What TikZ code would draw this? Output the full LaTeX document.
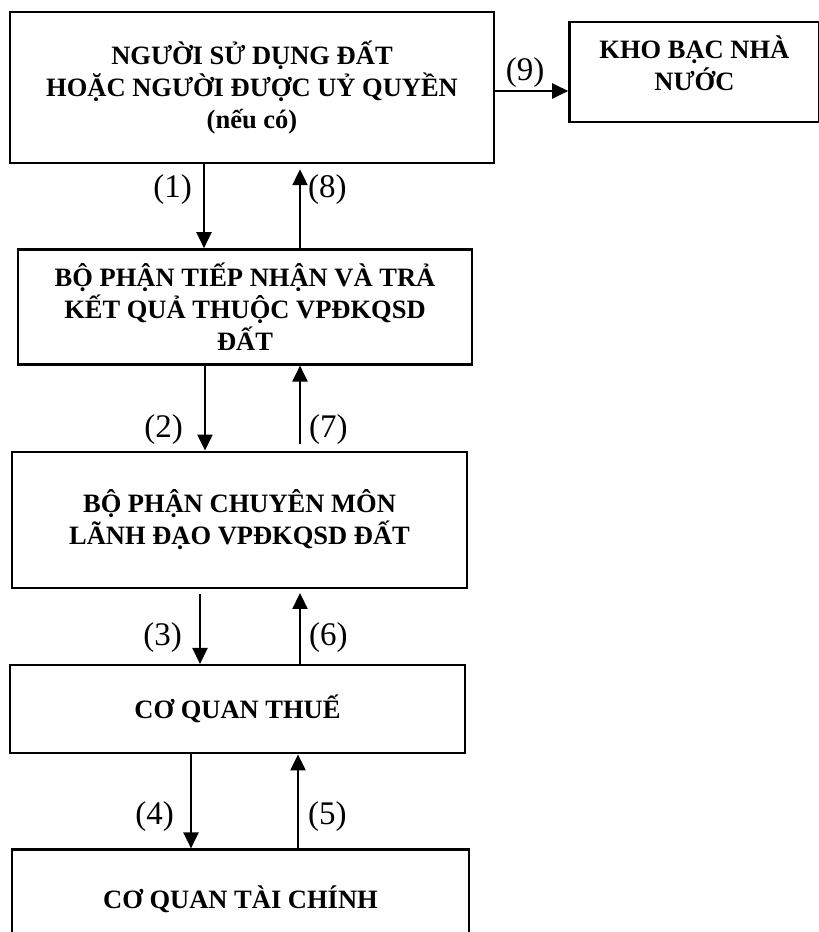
\documentclass[tikz,border=0pt]{standalone}
\usepackage{fontspec}
\setmainfont{Liberation Serif}
\usetikzlibrary{arrows.meta,positioning}
\tikzset{
  basebox/.style={rectangle,draw=black,line width=2.4pt,align=center,
    font=\fontsize{26.5}{32}\selectfont\bfseries},
  arr/.style={-{Triangle[length=16pt,width=15pt]},line width=2.2pt,color=black},
  lbl/.style={inner sep=0pt,font=\fontsize{33}{36}\selectfont}
}
\begin{document}
\begin{tikzpicture}[x=1pt,y=1pt]
  \useasboundingbox (0,0) rectangle (819,932);
  \node[basebox,minimum width=484pt,minimum height=151pt] (nguoi) at (252,844.5)
      {NGƯỜI SỬ DỤNG ĐẤT\\HOẶC NGƯỜI ĐƯỢC UỶ QUYỀN\\(nếu có)};
  \node[basebox,minimum width=250pt,minimum height=100pt,right=73pt of nguoi,yshift=15.5pt,
        label={[align=center,anchor=north,yshift=-11pt,font=\fontsize{26.5}{32}\selectfont\bfseries]north:{KHO BẠC NHÀ\\NƯỚC}}] (kbnn) {};
  \node[basebox,minimum width=454pt,minimum height=115pt,below=84pt of nguoi,xshift=-7pt] (tiepnhan)
      {BỘ PHẬN TIẾP NHẬN VÀ TRẢ\\KẾT QUẢ THUỘC VPĐKQSD\\ĐẤT};
  \node[basebox,minimum width=455pt,minimum height=136pt,below=85pt of tiepnhan,xshift=-5.5pt] (chuyenmon)
      {BỘ PHẬN CHUYÊN MÔN\\LÃNH ĐẠO VPĐKQSD ĐẤT};
  \node[basebox,minimum width=455pt,minimum height=88pt,below=75pt of chuyenmon,xshift=-2pt] (thue)
      {CƠ QUAN THUẾ};
  \node[basebox,minimum width=457pt,minimum height=100pt,below=94pt of thue,xshift=3pt] (taichinh)
      {CƠ QUAN TÀI CHÍNH};

  % luong ho so di xuong
  \draw[arr] (nguoi.south -| 204,0) -- node[lbl,pos=0.3,left=11pt] (l1) {(1)} (tiepnhan.north -| 204,0);
  \draw[arr] (tiepnhan.south -| 205,0) -- node[lbl,pos=0.75,left=21pt] (l2) {(2)} (chuyenmon.north -| 205,0);
  \draw[arr,shorten <=5pt] (chuyenmon.south -| 200,0) -- node[lbl,pos=0.65,left=17pt] (l3) {(3)} (thue.north -| 200,0);
  \draw[arr] (thue.south -| 191,0) -- node[lbl,pos=0.66,left=16pt] (l4) {(4)} (taichinh.north -| 191,0);
  % luong ket qua di len
  \draw[arr] (taichinh.north -| 298,0) -- node[lbl,pos=0.34,right=9pt] (l5) {(5)} (thue.south -| 298,0);
  \draw[arr,shorten >=4pt] (thue.north -| 300,0) -- node[lbl,pos=0.35,right=8pt] (l6) {(6)} (chuyenmon.south -| 300,0);
  \draw[arr,shorten <=7pt] (chuyenmon.north -| 300,0) -- node[lbl,pos=0.25,right=8pt] (l7) {(7)} (tiepnhan.south -| 300,0);
  \draw[arr,shorten >=5pt] (tiepnhan.north -| 300,0) -- node[lbl,pos=0.7,right=7pt] (l8) {(8)} (nguoi.south -| 300,0);
  % nop tien
  \draw[arr] (nguoi.east |- 0,841) -- node[lbl,pos=0.41,above=2pt] (l9) {(9)} (kbnn.west |- 0,841);
\end{tikzpicture}
\end{document}
